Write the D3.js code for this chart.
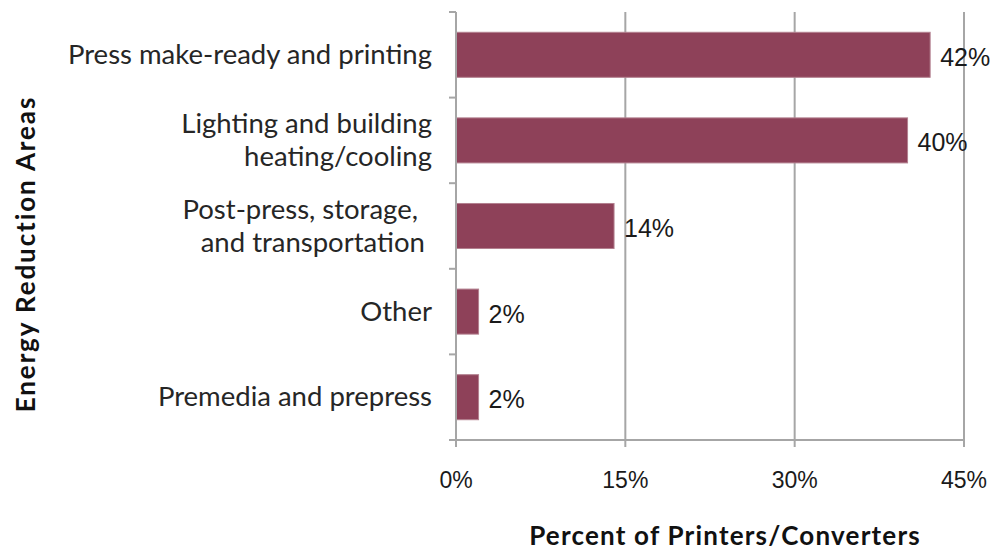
<!DOCTYPE html>
<html>
<head>
<meta charset="utf-8">
<script src="https://cdn.jsdelivr.net/npm/d3@7/dist/d3.min.js"></script>
<style>
  html, body { margin: 0; padding: 0; background: #fff; }
  svg { display: block; }
  .cat { font-family: Lato, "Open Sans", sans-serif; font-size: 27.5px; fill: #262626; white-space: pre; }
  .tick-label { font-family: "Liberation Sans", Arial, sans-serif; font-size: 23px; fill: #1a1a1a; }
  .value { font-family: "Liberation Sans", Arial, sans-serif; font-size: 25px; fill: #1a1a1a; }
  .title { font-family: Lato, "Open Sans", sans-serif; font-size: 26px; font-weight: bold; fill: #111; letter-spacing: 1.2px; }
  .title.y { letter-spacing: 1.9px; }
</style>
</head>
<body>
<svg id="chart" width="1001" height="552"></svg>
<script>
// Share of printers/converters naming each area for energy reduction
const categories = [
  "Press make-ready and printing",
  "Lighting and building\nheating/cooling",
  "Post-press, storage,\u00a0\u00a0\nand transportation\u00a0",
  "Other",
  "Premedia and prepress"
];
const values = [42, 40, 14, 2, 2];
const valueLabels = ["42%", "40%", "14%", "2%", "2%"];
const xTicks = [0, 15, 30, 45];
const xTickLabels = ["0%", "15%", "30%", "45%"];

const svg = d3.select("#chart");
const margin = { left: 456, right: 37, top: 12, bottom: 112 };
const W = 1001, H = 552;
const gridColor = "#a6a6a6";
const barColor = "#8e4159";

const x = d3.scaleLinear().domain([0, 45]).range([margin.left, W - margin.right]);
const y = d3.scaleBand().domain(categories)
  .range([margin.top, H - margin.bottom])
  .paddingInner(0.474).paddingOuter(0.237);

// vertical gridlines
svg.append("g").selectAll("line")
  .data(xTicks.filter(d => d > 0))
  .join("line")
  .attr("x1", d => x(d)).attr("x2", d => x(d))
  .attr("y1", margin.top).attr("y2", H - margin.bottom)
  .attr("stroke", gridColor).attr("stroke-width", 2);

// bars
svg.append("g").selectAll("rect")
  .data(values)
  .join("rect")
  .attr("x", x(0))
  .attr("y", (d, i) => y(categories[i]))
  .attr("width", d => x(d) - x(0))
  .attr("height", y.bandwidth())
  .attr("fill", barColor)
  .attr("stroke", "#b3808f").attr("stroke-width", 1);

// value labels
svg.append("g").selectAll("text")
  .data(values)
  .join("text")
  .attr("class", "value")
  .attr("x", d => x(d) + 10)
  .attr("y", (d, i) => y(categories[i]) + y.bandwidth() / 2 + 11)
  .text((d, i) => valueLabels[i]);

// y axis with ticks at band boundaries
const yAxisG = svg.append("g");
yAxisG.append("line")
  .attr("x1", x(0)).attr("x2", x(0))
  .attr("y1", margin.top).attr("y2", H - margin.bottom)
  .attr("stroke", gridColor).attr("stroke-width", 2);
const bounds = categories.map(c => y(c) - y.step() * y.paddingInner() / 2)
  .concat([H - margin.bottom]);
yAxisG.selectAll("line.tk")
  .data(bounds)
  .join("line").attr("class", "tk")
  .attr("x1", x(0) - 7).attr("x2", x(0))
  .attr("y1", d => d).attr("y2", d => d)
  .attr("stroke", gridColor).attr("stroke-width", 2);

// category labels (multi-line, right aligned)
const lineH = 33;
const catG = svg.append("g");
categories.forEach(c => {
  const lines = c.split("\n");
  const cy = y(c) + y.bandwidth() / 2;
  const first = cy - (lines.length - 1) * lineH / 2 + 9;
  const t = catG.append("text").attr("class", "cat")
    .attr("text-anchor", "end");
  lines.forEach((ln, j) => {
    t.append("tspan").attr("x", x(0) - 24).attr("y", first + j * lineH).text(ln);
  });
});

// x axis
const xAxisG = svg.append("g");
xAxisG.append("line")
  .attr("x1", x(0)).attr("x2", x(45))
  .attr("y1", H - margin.bottom).attr("y2", H - margin.bottom)
  .attr("stroke", gridColor).attr("stroke-width", 2);
xAxisG.selectAll("line.tk")
  .data(xTicks)
  .join("line").attr("class", "tk")
  .attr("x1", d => x(d)).attr("x2", d => x(d))
  .attr("y1", H - margin.bottom).attr("y2", H - margin.bottom + 7)
  .attr("stroke", gridColor).attr("stroke-width", 2);
xAxisG.selectAll("text")
  .data(xTicks)
  .join("text").attr("class", "tick-label")
  .attr("text-anchor", "middle")
  .attr("x", d => x(d))
  .attr("y", H - margin.bottom + 48)
  .text((d, i) => xTickLabels[i]);

// axis titles
svg.append("text").attr("class", "title")
  .attr("text-anchor", "middle")
  .attr("x", 725).attr("y", 545)
  .text("Percent of Printers/Converters");
svg.append("text").attr("class", "title y")
  .attr("text-anchor", "middle")
  .attr("transform", "translate(35,254) rotate(-90)")
  .text("Energy Reduction Areas");
</script>
</body>
</html>
